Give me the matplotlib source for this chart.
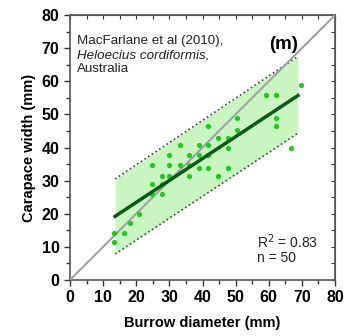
import matplotlib
matplotlib.use('Agg')
import matplotlib.pyplot as plt
from matplotlib.ticker import MultipleLocator

plt.rcParams['font.family'] = ['Liberation Sans', 'DejaVu Sans']

# data
burrow = [13.4, 13.4, 16.3, 18.2, 20.8, 24.7, 24.7, 24.7, 27.8, 27.8, 27.8,
          29.9, 29.9, 29.9, 33.2, 33.2, 35.9, 35.9, 35.9, 39.0, 39.0, 39.0,
          41.7, 41.7, 41.7, 41.7, 44.6, 44.6, 47.7, 47.7, 47.7, 50.4, 50.4,
          62.3, 62.3, 66.6, 59.1, 62.3, 69.6]
carapace = [14.2, 11.5, 14.2, 17.1, 20.0, 26.0, 28.9, 34.8, 26.0, 28.9, 31.3,
            31.3, 34.8, 37.7, 34.8, 40.7, 31.3, 34.8, 37.7, 33.9, 37.7, 40.7,
            33.9, 37.7, 40.7, 46.4, 31.3, 42.9, 33.9, 39.7, 42.9, 45.3, 48.9,
            48.9, 46.4, 39.7, 55.9, 55.9, 58.9]

fit_x = [13.6, 68.8]
fit_y = [19.2, 55.7]
band_lo = [7.8, 44.3]
band_hi = [30.5, 67.5]
one_to_one = [0, 80]

fig = plt.figure(figsize=(3.45, 3.36), dpi=100)
ax = fig.add_axes([0.203, 0.167, 0.768, 0.788])

ax.fill_between(fit_x, band_lo, band_hi, color='#c8f5c0', lw=0, zorder=1)
ax.plot(fit_x, band_hi, ls=':', color='#444444', lw=1.2, zorder=2)
ax.plot(fit_x, band_lo, ls=':', color='#444444', lw=1.2, zorder=2)
ax.plot(one_to_one, one_to_one, color='#a0a0a0', lw=1.5, zorder=3)
ax.scatter(burrow, carapace, s=14, color='#1ec81e', lw=0, zorder=4)
ax.plot(fit_x, fit_y, color='#0a5a14', lw=2.5, zorder=5)

ax.set_xlim(0, 80)
ax.set_ylim(0, 80)
ax.xaxis.set_major_locator(MultipleLocator(10))
ax.yaxis.set_major_locator(MultipleLocator(10))
ax.xaxis.set_minor_locator(MultipleLocator(5))
ax.yaxis.set_minor_locator(MultipleLocator(5))
ax.tick_params(which='both', direction='out', top=False, right=False, width=1, color='#333333')
ax.tick_params(which='major', length=4, labelsize=11.5)
ax.tick_params(which='minor', length=3)
for lab in ax.get_xticklabels() + ax.get_yticklabels():
    lab.set_fontweight('bold')

# inward ticks on top and right
sec_x = ax.secondary_xaxis('top')
sec_x.set_xticks(range(0, 81, 5))
sec_x.tick_params(direction='in', length=3, labeltop=False, color='#333333')
sec_y = ax.secondary_yaxis('right')
sec_y.set_yticks(range(0, 81, 5))
sec_y.tick_params(direction='in', length=3, labelright=False, color='#333333')

for s in ax.spines.values():
    s.set_color('#555555')
    s.set_linewidth(1.2)
sec_x.spines['top'].set_color('#555555')
sec_y.spines['right'].set_color('#555555')

ax.set_xlabel('Burrow diameter (mm)', fontsize=10.5, fontweight='bold', labelpad=8)
ax.set_ylabel('Carapace width (mm)', fontsize=10.5, fontweight='bold', labelpad=4)

ax.text(2.1, 71.3, 'MacFarlane et al (2010),', fontsize=9.6, va='baseline', color='#222222')
ax.text(2.1, 67.0, 'Heloecius cordiformis,', fontsize=9.6, va='baseline', style='italic', color='#222222')
ax.text(2.1, 62.7, 'Australia', fontsize=9.6, va='baseline', color='#222222')
ax.text(68.8, 71, '(m)', fontsize=13.5, fontweight='bold', ha='right', va='center')
ax.text(56.5, 9.7, 'R$^2$ = 0.83', fontsize=10, va='baseline', color='#222222')
ax.text(56.5, 5.5, 'n = 50', fontsize=10, va='baseline', color='#222222')

fig.savefig('out.png', dpi=100)
